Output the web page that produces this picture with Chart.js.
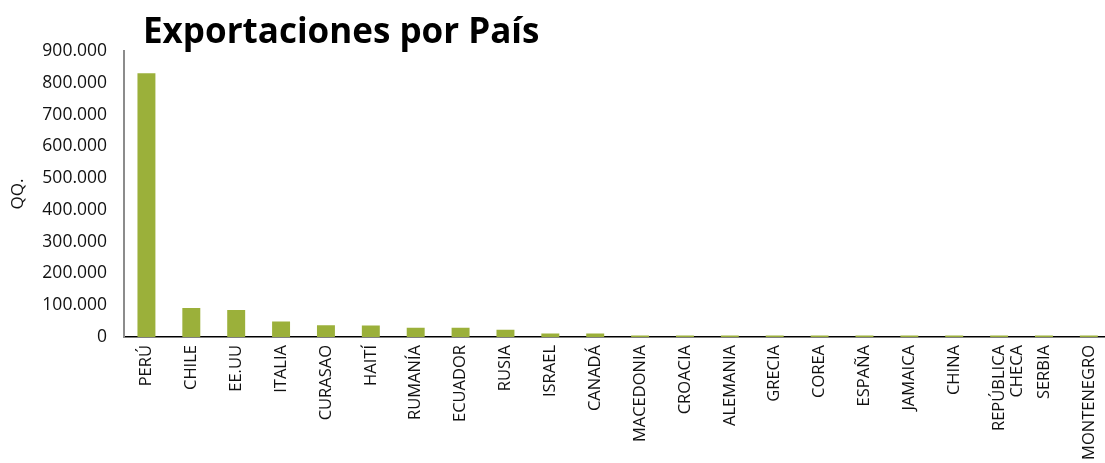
<!DOCTYPE html>
<html>
<head>
<meta charset="utf-8">
<script src="https://cdn.jsdelivr.net/npm/chart.js@4/dist/chart.umd.min.js"></script>
<style>
  html, body { margin: 0; padding: 0; background: #fff; overflow: hidden; }
  #wrap { position: relative; width: 1105px; height: 463px; overflow: hidden; }
  #title { position: absolute; left: 143px; top: 12px; font: 700 35px 'Open Sans', sans-serif; line-height: 1; color: #000; white-space: nowrap; }
  canvas { display: block; }
</style>
</head>
<body>
<div id="wrap">
  <canvas id="c" width="1115" height="463"></canvas>
  <div id="title">Exportaciones por País</div>
</div>
<script>
const categories = ['PERÚ', 'CHILE', 'EE.UU', 'ITALIA', 'CURASAO', 'HAITÍ', 'RUMANÍA', 'ECUADOR', 'RUSIA', 'ISRAEL', 'CANADÁ', 'MACEDONIA', 'CROACIA', 'ALEMANIA', 'GRECIA', 'COREA', 'ESPAÑA', 'JAMAICA', 'CHINA', ['REPÚBLICA', 'CHECA'], 'SERBIA', 'MONTENEGRO'];
const exportValues = [830000, 91000, 85000, 49000, 37000, 36000, 29000, 29000, 23000, 11000, 11000, 5000, 5000, 5000, 5000, 5000, 5000, 5000, 5000, 5000, 5000, 5000];
const yTickLabels = ['0', '100.000', '200.000', '300.000', '400.000', '500.000', '600.000', '700.000', '800.000', '900.000'];
const yAxisTitle = 'QQ.';

new Chart(document.getElementById('c'), {
  type: 'bar',
  data: {
    labels: categories,
    datasets: [{
      data: exportValues,
      backgroundColor: '#9bb03a',
      barPercentage: 0.4,
      categoryPercentage: 1.0
    }]
  },
  options: {
    responsive: false,
    animation: false,
    devicePixelRatio: 1,
    layout: { padding: { top: 51, left: 0, right: 0, bottom: 0 } },
    plugins: { legend: { display: false }, tooltip: { enabled: false }, title: { display: false } },
    scales: {
      x: {
        grid: { display: false, drawTicks: false },
        border: { display: true, color: '#000', width: 1.5 },
        ticks: {
          autoSkip: false, minRotation: 90, maxRotation: 90,
          color: '#111', padding: 8,
          font: { family: "'Open Sans', sans-serif", size: 16.5, lineHeight: 1.1 }
        },
        afterFit: s => { s.height = 126; }
      },
      y: {
        min: 0, max: 900000,
        grid: { display: false, drawTicks: false },
        border: { display: true, color: '#8c8c8c', width: 2 },
        ticks: {
          stepSize: 100000, color: '#111', padding: 17,
          font: { family: "'Open Sans', sans-serif", size: 17.5 },
          callback: v => yTickLabels[Math.round(v / 100000)]
        },
        title: {
          display: true, text: yAxisTitle, color: '#111',
          font: { family: "'Open Sans', sans-serif", size: 17 },
          padding: { top: 8, bottom: 0 }
        },
        afterFit: s => { s.width = 124; }
      }
    }
  }
});
</script>
</body>
</html>
